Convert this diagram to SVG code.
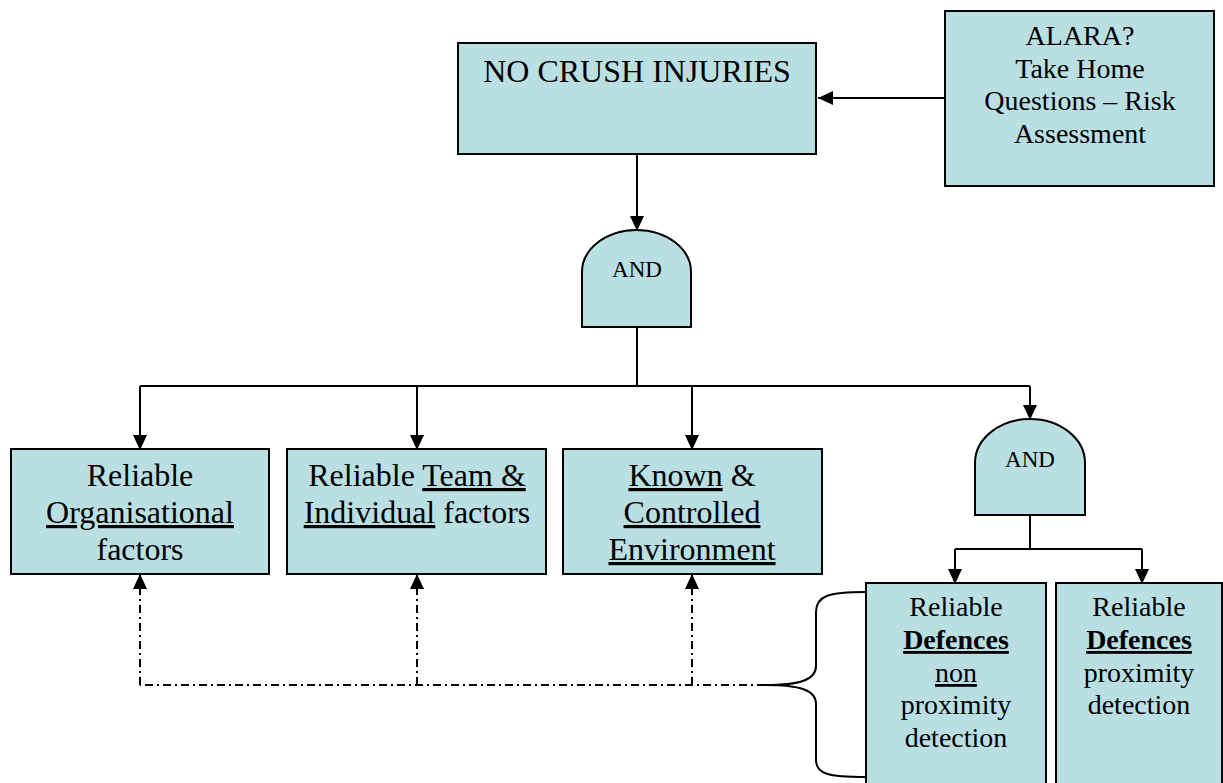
<svg xmlns="http://www.w3.org/2000/svg" width="1223" height="783" viewBox="0 0 1223 783">
<style>
.box{fill:#b9dfe3;stroke:#000;stroke-width:2}
.t{font-family:"Liberation Serif","Times New Roman",serif;fill:#000;text-anchor:middle}
.f32{font-size:32px}
.f28{font-size:28px}
.f23{font-size:23px}
.u{text-decoration:underline}
.b{font-weight:bold}
.ln{fill:none;stroke:#000;stroke-width:2}
.dd{fill:none;stroke:#000;stroke-width:2;stroke-dasharray:8 4 2 4}
</style>
<defs>
<marker id="ah" markerUnits="userSpaceOnUse" markerWidth="16" markerHeight="14" refX="15" refY="7" orient="auto">
<path d="M0,0 L15,7 L0,14 Z" fill="#000"/>
</marker>
</defs>
<rect width="1223" height="783" fill="#fff"/>
<g id="connectors">
<path class="ln" d="M945,98 L818,98" marker-end="url(#ah)"/>
<path class="ln" d="M637,154 L637,231" marker-end="url(#ah)"/>
<path class="ln" d="M637,327 L637,386"/>
<path class="ln" d="M140,386 L1030,386"/>
<path class="ln" d="M140,386 L140,450" marker-end="url(#ah)"/>
<path class="ln" d="M417,386 L417,450" marker-end="url(#ah)"/>
<path class="ln" d="M692,386 L692,450" marker-end="url(#ah)"/>
<path class="ln" d="M1030,386 L1030,420" marker-end="url(#ah)"/>
<path class="ln" d="M1030,515 L1030,549 M955,549 L1142,549"/>
<path class="ln" d="M955,549 L955,584" marker-end="url(#ah)"/>
<path class="ln" d="M1142,549 L1142,584" marker-end="url(#ah)"/>
<path class="dd" d="M765,685 L140,685"/>
<path class="dd" d="M140,685 L140,574" marker-end="url(#ah)"/>
<path class="dd" d="M417,685 L417,574" marker-end="url(#ah)"/>
<path class="dd" d="M692,685 L692,574" marker-end="url(#ah)"/>
<path class="ln" d="M866,592 C828,592 816,596 816,612 L816,666 C816,680 800,685 765,685 C800,685 816,690 816,704 L816,760 C816,774 828,777 866,777"/>
</g>
<g id="top">
<rect class="box" x="458" y="43" width="358" height="111"/>
<text class="t f32" x="637" y="82">NO CRUSH INJURIES</text>
</g>
<g id="alara">
<rect class="box" x="945" y="11" width="269" height="175"/>
<text class="t f28" x="1080" y="45">ALARA?</text>
<text class="t f28" x="1080" y="78">Take Home</text>
<text class="t f28" x="1080" y="110">Questions – Risk</text>
<text class="t f28" x="1080" y="143">Assessment</text>
</g>
<g id="and1">
<path class="box" d="M582,327 L582,272 A54.5,42 0 0 1 691,272 L691,327 Z"/>
<text class="t f23" x="637" y="277">AND</text>
</g>
<g id="org">
<rect class="box" x="11" y="449" width="258" height="125"/>
<text class="t f32" x="140" y="486">Reliable</text>
<text class="t f32" x="140" y="523"><tspan class="u">Organisational</tspan></text>
<text class="t f32" x="140" y="560">factors</text>
</g>
<g id="team">
<rect class="box" x="287" y="449" width="259" height="125"/>
<text class="t f32" x="417" y="486">Reliable <tspan class="u">Team &amp;</tspan></text>
<text class="t f32" x="417" y="523"><tspan class="u">Individual</tspan> factors</text>
</g>
<g id="env">
<rect class="box" x="563" y="449" width="259" height="125"/>
<text class="t f32" x="692" y="486"><tspan class="u">Known</tspan> &amp;</text>
<text class="t f32" x="692" y="523"><tspan class="u">Controlled</tspan></text>
<text class="t f32" x="692" y="560"><tspan class="u">Environment</tspan></text>
</g>
<g id="and2">
<path class="box" d="M975,515 L975,463 A55,44 0 0 1 1085,463 L1085,515 Z"/>
<text class="t f23" x="1030" y="467">AND</text>
</g>
<g id="nonprox">
<rect class="box" x="866" y="583" width="180" height="220"/>
<text class="t f28" x="956" y="616">Reliable</text>
<text class="t f28 b" x="956" y="649"><tspan class="u">Defences</tspan></text>
<text class="t f28" x="956" y="682"><tspan class="u">non</tspan></text>
<text class="t f28" x="956" y="714">proximity</text>
<text class="t f28" x="956" y="747">detection</text>
</g>
<g id="prox">
<rect class="box" x="1056" y="583" width="166" height="220"/>
<text class="t f28" x="1139" y="616">Reliable</text>
<text class="t f28 b" x="1139" y="649"><tspan class="u">Defences</tspan></text>
<text class="t f28" x="1139" y="682">proximity</text>
<text class="t f28" x="1139" y="714">detection</text>
</g>
</svg>
